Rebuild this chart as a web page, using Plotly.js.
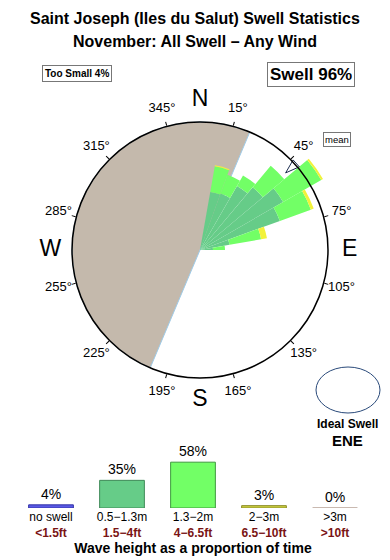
<!DOCTYPE html>
<html>
<head>
<meta charset="utf-8">
<script src="https://cdn.plot.ly/plotly-3.0.1.min.js"></script>
<style>
  html, body { margin: 0; padding: 0; background: #fff; }
  #chart { width: 390px; height: 560px; }
</style>
</head>
<body>
<div id="chart"></div>
<script>
// ---------- data ----------
// swell direction bins (bin centres, degrees)
const dirBins = [15, 25, 35, 45, 55, 65, 75, 85];
// radial contribution of each wave-height band per direction bin (stacked)
const band05to13 = [59, 60, 74, 82, 96, 85, 30, 13];   // 0.5–1.3m
const band13to2  = [26, 20, 12, 28, 44, 33, 32, 12];   // 1.3–2m
const band2to3   = [1, 0, 0, 0, 2, 3, 6, 0];           // 2–3m
const roseMax = 128;                                   // outer ring value
const frameMax = 160;                                  // outer edge of the drawing area

// land sector (coastline bearing, land lies from 202.9° clockwise round to 22.9°)
const landFrom = 202.9;
const landTo = 382.9;

// mean swell direction
const meanDir = 48;

// angular labels
const degreeTicks = [15, 45, 75, 105, 135, 165, 195, 225, 255, 285, 315, 345];
const compassDirs = [0, 90, 180, 270];
const compassText = ['N', 'E', 'S', 'W'];

// wave height summary
const sizeCats  = ['no swell', '0.5−1.3m', '1.3−2m', '2−3m', '>3m'];
const sizeFeet  = ['<1.5ft', '1.5−4ft', '4−6.5ft', '6.5−10ft', '>10ft'];
const sizeShare = [4, 35, 58, 3, 0];

// ---------- styles ----------
const FONT = 'Liberation Sans, Arial, Helvetica, sans-serif';
const cDark = '#66cc88', cLight = '#72ff66', cYellow = '#f2f23a';
const cLand = '#c4b9ac';
const sizeFill = ['#5a5ae6', cDark, cLight, '#c8cc3e', '#c9b9b0'];
const sizeLine = ['#3434a8', '#3f8a58', '#3f9a3f', '#8e8e2a', '#b0a098'];

const traces = [];

// land half-disc
traces.push({
  type: 'barpolar', subplot: 'polar',
  r: [roseMax],
  theta: [(landFrom + landTo) / 2],
  width: [landTo - landFrom],
  marker: { color: cLand, line: { color: '#9fcbe8', width: 1 } },
  hoverinfo: 'skip', showlegend: false
});

// stacked petals
[[band05to13, cDark], [band13to2, cLight], [band2to3, cYellow]].forEach(([vals, col]) => {
  traces.push({
    type: 'barpolar', subplot: 'polar',
    r: vals,
    theta: dirBins,
    width: dirBins.map(() => 10),
    marker: { color: col, line: { width: 0 } },
    hoverinfo: 'skip', showlegend: false
  });
});

// degree labels
traces.push({
  type: 'scatterpolar', subplot: 'polar',
  mode: 'text',
  r: degreeTicks.map(() => roseMax * 1.145),
  theta: degreeTicks,
  text: degreeTicks.map(d => d + '°'),
  textposition: 'middle center',
  textfont: { family: FONT, size: 13, color: '#000' },
  hoverinfo: 'skip', showlegend: false
});

// compass letters
traces.push({
  type: 'scatterpolar', subplot: 'polar',
  mode: 'text',
  r: compassDirs.map(() => roseMax * 1.17),
  theta: compassDirs,
  text: compassText,
  textposition: 'middle center',
  textfont: { family: FONT, size: 23, color: '#000' },
  hoverinfo: 'skip', showlegend: false
});

// mean direction arrow
traces.push({
  type: 'scatterpolar', subplot: 'polar',
  mode: 'markers',
  r: [roseMax * 0.9],
  theta: [meanDir],
  marker: { symbol: 'arrow', size: 15, angle: meanDir + 180, color: '#ffffff',
            line: { color: '#1d2d50', width: 1 } },
  hoverinfo: 'skip', showlegend: false
});

// ring frame (outline + ticks live on polar2)
traces.push({
  type: 'scatterpolar', subplot: 'polar2',
  mode: 'markers', r: [], theta: [],
  hoverinfo: 'skip', showlegend: false
});

// wave height summary bars
traces.push({
  type: 'bar',
  x: sizeCats,
  y: sizeShare,
  xaxis: 'x', yaxis: 'y',
  text: sizeShare.map(v => v + '%'),
  textposition: 'outside',
  textfont: { family: FONT, size: 14, color: '#000' },
  cliponaxis: false,
  marker: { color: sizeFill, line: { color: sizeLine, width: 1 } },
  error_y: { type: 'data', array: sizeShare.map(v => v === 0 ? 0 : NaN), visible: true,
             color: sizeFill[4], thickness: 2, width: 22 },
  hoverinfo: 'skip', showlegend: false
});

const H = 560, W = 390;
const CX = 200, CY = 250, RING = 128, FRAME = 160;
const py = p => 1 - p / H;
const px = p => p / W;

const layout = {
  width: W, height: H,
  margin: { l: 0, r: 0, t: 0, b: 0 },
  paper_bgcolor: '#fff',
  plot_bgcolor: '#fff',
  font: { family: FONT, color: '#000' },
  showlegend: false,
  polar: {
    domain: { x: [px(CX - FRAME), px(CX + FRAME)], y: [py(CY + FRAME), py(CY - FRAME)] },
    bgcolor: 'rgba(0,0,0,0)',
    barmode: 'stack',
    bargap: 0,
    radialaxis: { range: [0, frameMax], visible: false, showgrid: false },
    angularaxis: { rotation: 90, direction: 'clockwise', visible: false, showgrid: false }
  },
  polar2: {
    domain: { x: [px(CX - RING), px(CX + RING)], y: [py(CY + RING), py(CY - RING)] },
    bgcolor: 'rgba(0,0,0,0)',
    radialaxis: { range: [0, roseMax], visible: false, showgrid: false },
    angularaxis: {
      rotation: 90, direction: 'clockwise',
      tickmode: 'array', tickvals: degreeTicks,
      ticks: 'outside', ticklen: 4, tickwidth: 1, tickcolor: '#000',
      showticklabels: false, showgrid: false,
      showline: true, linecolor: '#000', linewidth: 1.5
    }
  },
  xaxis: {
    domain: [px(15.5), px(370.5)],
    type: 'category',
    anchor: 'y',
    tickmode: 'array',
    tickvals: sizeCats,
    ticktext: sizeCats.map((c, i) => c.replace('>', '&gt;') + '<br><b><span style="color:#7a1414">' +
      sizeFeet[i].replace('<', '&lt;').replace('>', '&gt;') + '</span></b>'),
    tickfont: { family: FONT, size: 12, color: '#000' },
    ticks: '', showline: false, showgrid: false, zeroline: false,
    fixedrange: true,
    title: { text: '<b>Wave height as a proportion of time</b>', font: { family: FONT, size: 14, color: '#000' }, standoff: 2 }
  },
  yaxis: {
    domain: [py(508), py(508) + 55.3 / H],
    range: [0, 70],
    visible: false, showgrid: false, zeroline: false, fixedrange: true
  },
  bargap: 0.37,
  shapes: [
    { type: 'circle', xref: 'paper', yref: 'paper',
      x0: px(316), x1: px(380), y0: py(413), y1: py(367),
      line: { color: '#2a4a7a', width: 1 }, fillcolor: 'rgba(0,0,0,0)' }
  ],
  annotations: [
    { text: '<b>Saint Joseph (Iles du Salut) Swell Statistics</b>', x: 0.5, y: py(18), xref: 'paper', yref: 'paper',
      showarrow: false, font: { family: FONT, size: 16, color: '#000' }, xanchor: 'center', yanchor: 'middle' },
    { text: '<b>November: All Swell – Any Wind</b>', x: 0.5, y: py(42), xref: 'paper', yref: 'paper',
      showarrow: false, font: { family: FONT, size: 16, color: '#000' }, xanchor: 'center', yanchor: 'middle' },
    { text: '<b>Too Small 4%</b>', x: px(76.5), y: py(73.5), xref: 'paper', yref: 'paper',
      showarrow: false, font: { family: FONT, size: 10, color: '#000' },
      bordercolor: '#777', borderwidth: 1, borderpad: 2, bgcolor: '#fff', xanchor: 'center', yanchor: 'middle' },
    { text: '<b>Swell 96%</b>', x: px(311), y: py(74.5), xref: 'paper', yref: 'paper',
      showarrow: false, font: { family: FONT, size: 17, color: '#000' },
      bordercolor: '#777', borderwidth: 1, borderpad: 2, bgcolor: '#fff', xanchor: 'center', yanchor: 'middle' },
    { text: 'mean', x: px(336.5), y: py(139), xref: 'paper', yref: 'paper',
      showarrow: false, font: { family: FONT, size: 9.5, color: '#000' },
      bordercolor: '#777', borderwidth: 1, borderpad: 1, bgcolor: '#fff', xanchor: 'center', yanchor: 'middle' },
    { text: '<b>Ideal Swell</b>', x: px(347), y: py(424), xref: 'paper', yref: 'paper',
      showarrow: false, font: { family: FONT, size: 12, color: '#000' }, xanchor: 'center', yanchor: 'middle' },
    { text: '<b>ENE</b>', x: px(347), y: py(440), xref: 'paper', yref: 'paper',
      showarrow: false, font: { family: FONT, size: 15, color: '#000' }, xanchor: 'center', yanchor: 'middle' }
  ]
};

Plotly.newPlot('chart', traces, layout, { staticPlot: true, displayModeBar: false });
</script>
</body>
</html>
